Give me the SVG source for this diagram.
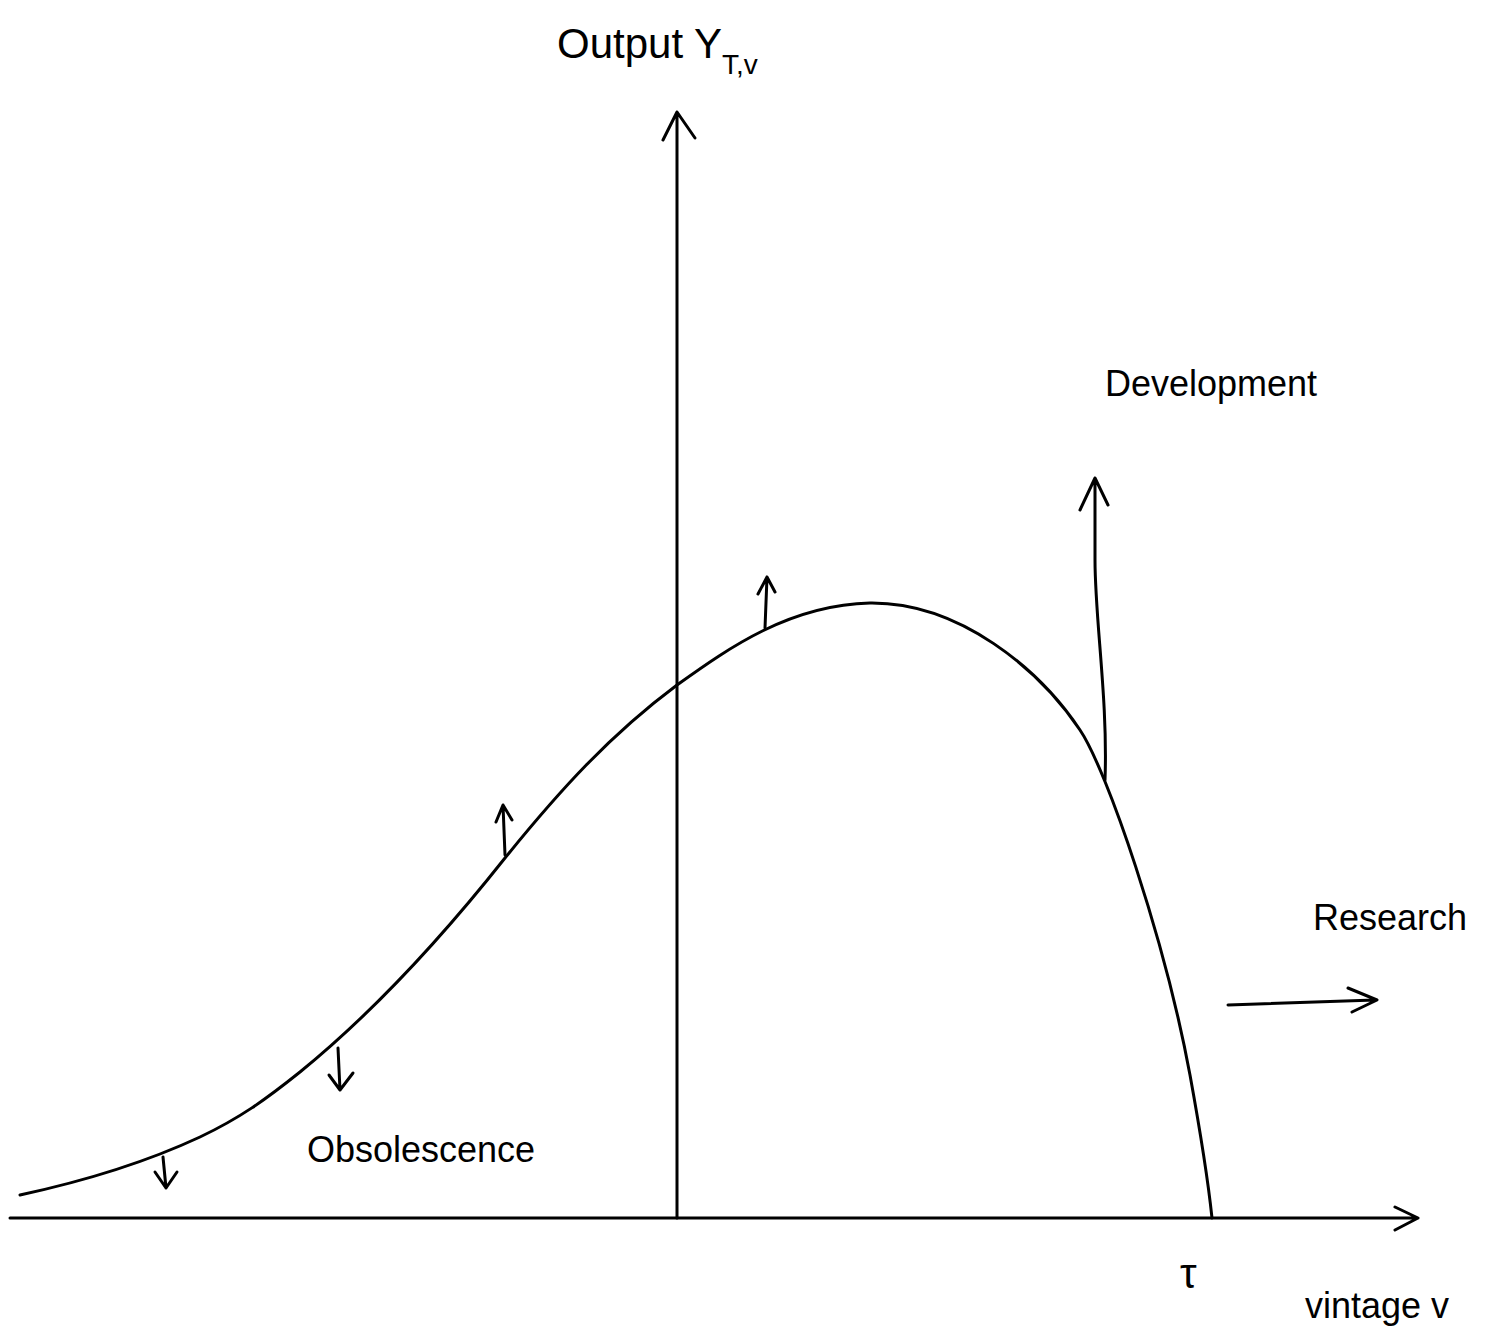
<svg xmlns="http://www.w3.org/2000/svg" width="1503" height="1341" viewBox="0 0 1503 1341">
<style>
.s{fill:none;stroke:#000;stroke-width:3;stroke-linecap:round;stroke-linejoin:round}
.t{font-family:"Liberation Sans",Arial,sans-serif;fill:#000}
</style>
<rect width="1503" height="1341" fill="#fff"/>
<g id="connectors">
<path class="s" d="M10,1218 L1418,1218 M1395,1207 L1418,1218 L1395,1230"/>
<path class="s" d="M677,1218 L677,112 M663,140 L677,112 L695,138"/>
<path class="s" d="M20,1195 C80,1182 140,1165 200,1137 C240,1118 265,1100 300,1072 C370,1015 440,940 505,858 C560,790 610,735 677,685 C730,647 790,605 870,603 C960,602 1040,670 1080,730 C1107,770 1165,940 1190,1075 C1200,1130 1208,1180 1212,1218"/>
<path class="s" d="M163,1157 L166,1188 M155,1172 L166,1188 L177,1172"/>
<path class="s" d="M338,1048 L340,1090 M329,1075 L340,1090 L353,1073"/>
<path class="s" d="M505,855 L503,805 M496,822 L503,805 L512,820"/>
<path class="s" d="M765,628 L767,577 M758,594 L767,577 L775,592"/>
<path class="s" d="M1105,780 C1108,700 1095,620 1095,560 L1095,478 M1080,510 L1095,478 L1108,505"/>
<path class="s" d="M1228,1005 L1375,1000 M1348,988 L1377,1000 L1352,1012"/>
</g>
<g id="labels">
<text class="t" x="557" y="58" font-size="42">Output  Y<tspan font-size="28" dy="16">T,v</tspan></text>
<text class="t" x="1105" y="396" font-size="36">Development</text>
<text class="t" x="1313" y="930" font-size="36">Research</text>
<text class="t" x="307" y="1162" font-size="36">Obsolescence</text>
<text class="t" x="1180" y="1288" font-size="42">τ</text>
<text class="t" x="1305" y="1318" font-size="36">vintage  v</text>
</g>
</svg>
